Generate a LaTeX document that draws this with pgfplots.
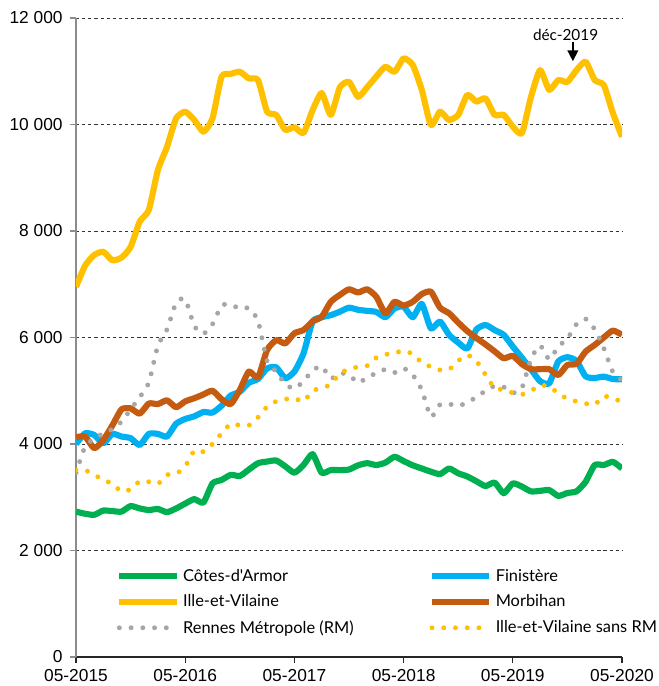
\documentclass[border=0pt]{standalone}
\usepackage{fontspec}
\setmainfont{Liberation Sans}
\newfontfamily\legfont{Lato}
\usepackage{pgfplots}
\usepackage{pgfplotstable}
\pgfplotsset{compat=1.18}
\usetikzlibrary{arrows.meta}
\definecolor{cgreen}{HTML}{00B050}
\definecolor{cblue}{HTML}{00B0F0}
\definecolor{cyellow}{HTML}{FFC000}
\definecolor{corange}{HTML}{C55A11}
\definecolor{cgray}{HTML}{A6A6A6}

\pgfplotstableread{
m ca fi iv mo rm ivs
0 2730 4000 6950 4125 3460 3510
1 2690 4200 7350 4140 3950 3510
2 2670 4170 7550 3920 4100 3420
3 2750 4010 7610 4075 4200 3330
4 2740 4190 7450 4350 4280 3250
5 2730 4140 7500 4650 4420 3110
6 2835 4110 7700 4670 4650 3150
7 2790 3980 8175 4570 4880 3300
8 2760 4190 8395 4760 5150 3290
9 2780 4190 9145 4750 5850 3250
10 2720 4140 9580 4820 6150 3420
11 2790 4380 10115 4690 6650 3440
12 2880 4470 10240 4800 6720 3580
13 2965 4520 10085 4860 6215 3875
14 2900 4600 9865 4930 6070 3855
15 3260 4590 10115 5000 6250 4000
16 3325 4720 10900 4840 6600 4200
17 3420 4910 10950 4750 6620 4380
18 3400 4980 10990 5015 6540 4350
19 3520 5150 10865 5360 6550 4350
20 3640 5220 10835 5250 6315 4500
21 3670 5420 10240 5765 5560 4700
22 3690 5440 10180 5950 5360 4800
23 3580 5235 9900 5890 5125 4840
24 3460 5360 9950 6080 5040 4860
25 3605 5700 9840 6140 5180 4800
26 3810 6300 10270 6300 5380 5000
27 3460 6380 10590 6390 5460 5050
28 3510 6420 10180 6670 5230 5120
29 3510 6485 10700 6800 5330 5330
30 3520 6560 10800 6905 5300 5400
31 3600 6520 10520 6845 5150 5450
32 3640 6500 10700 6905 5250 5470
33 3605 6480 10900 6765 5330 5620
34 3650 6380 11085 6455 5400 5680
35 3760 6545 10990 6670 5340 5710
36 3680 6580 11240 6600 5420 5750
37 3600 6380 11120 6670 5300 5690
38 3540 6630 10650 6815 5015 5530
39 3480 6170 9990 6860 4510 5450
40 3435 6300 10240 6560 4740 5390
41 3540 6050 10085 6455 4750 5400
42 3450 5905 10180 6280 4715 5560
43 3390 5795 10555 6120 4780 5670
44 3300 6150 10430 5990 4880 5560
45 3210 6235 10490 5870 5000 5300
46 3275 6140 10180 5740 5090 5050
47 3075 6050 10180 5610 5070 5020
48 3260 5830 9960 5655 4960 4960
49 3200 5620 9835 5500 5050 4930
50 3110 5400 10520 5405 5600 5000
51 3120 5180 11020 5405 5850 5100
52 3135 5140 10650 5405 5590 5080
53 3025 5550 10835 5295 5830 4950
54 3080 5630 10800 5485 5980 4850
55 3110 5560 11020 5505 6250 4800
56 3290 5270 11180 5735 6350 4760
57 3605 5240 10835 5860 6155 4740
58 3605 5265 10740 6000 5800 4900
59 3665 5220 10215 6130 5350 4850
60 3540 5215 9770 6050 5200 4800
}\data

\begin{document}
\begin{tikzpicture}
\path[use as bounding box] (-57pt,-21.75pt) rectangle (436.5pt,492.75pt);
\begin{axis}[
  at={(0,0)}, anchor=south west,
  scale only axis, width=409.5pt, height=479.25pt,
  xmin=0, xmax=60, ymin=0, ymax=12000,
  axis x line*=bottom, axis y line*=left,
  x axis line style={black!85, line width=0.8pt, -},
  y axis line style={black!45, line width=0.8pt, -},
  xtick={0,12,24,36,48,60},
  xticklabels={05-2015,05-2016,05-2017,05-2018,05-2019,05-2020},
  ytick={0,2000,4000,6000,8000,10000,12000},
  yticklabels={0,2 000,4 000,6 000,8 000,10 000,12 000},
  tick align=outside, major tick length=4.5pt,
  x tick style={black!85, line width=0.8pt},
  y tick style={black!45, line width=0.8pt},
  ymajorgrids,
  grid style={black!80, dash pattern=on 2.4pt off 2.2pt, line width=0.6pt},
  tick label style={font=\fontsize{13}{15}\selectfont},
  yticklabel style={xshift=-2pt},
  xticklabel style={yshift=-1pt},
  legend columns=2,
  legend cell align=left,
  legend style={draw=none, fill=none, at={(0.066,0.146)}, anchor=north west,
    font=\legfont\fontsize{12.3}{14}\selectfont,
    nodes={inner xsep=2.5pt},
    /tikz/column 2/.style={column sep=54pt}, row sep=4.6pt},
  legend image code/.code={\draw[#1] (0pt,0pt) -- (43pt,0pt);},
  every axis plot/.append style={smooth, tension=0.35},
]
\addplot[cgreen, line width=4.6pt, line join=round] table[x=m, y=ca] {\data};
\addlegendentry{Côtes-d'Armor}
\addplot[cblue, line width=4.6pt, line join=round] table[x=m, y=fi] {\data};
\addlegendentry{Finistère}
\addplot[cyellow, line width=4.6pt, line join=round] table[x=m, y=iv] {\data};
\addlegendentry{Ille-et-Vilaine}
\addplot[corange, line width=4.6pt, line join=round] table[x=m, y=mo] {\data};
\addlegendentry{Morbihan}
\addplot[cgray, line width=3.7pt, line cap=round, dash pattern=on 0pt off 8.8pt] table[x=m, y=rm] {\data};
\addlegendentry{Rennes Métropole (RM)}
\addplot[cyellow, line width=3.7pt, line cap=round, dash pattern=on 0pt off 8.8pt] table[x=m, y=ivs] {\data};
\addlegendentry{Ille-et-Vilaine sans RM}
\draw[line width=1.1pt, -{Triangle[length=8pt,width=8pt]}] (axis cs:54.6,11540) -- (axis cs:54.6,11190);
\node[font=\legfont\fontsize{11.5}{13}\selectfont, anchor=base] at (axis cs:53.8,11580) {déc-2019};
\end{axis}
\end{tikzpicture}
\end{document}
